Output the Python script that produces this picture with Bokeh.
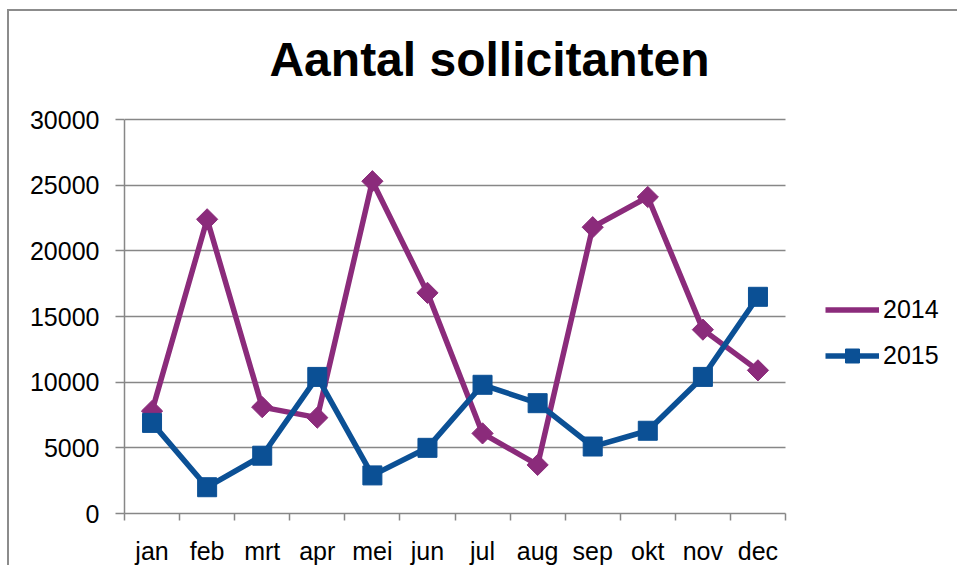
from bokeh.plotting import figure
from bokeh.models import Range1d, FixedTicker, Legend, LegendItem, ColumnDataSource, Label
from bokeh.embed import file_html
from bokeh.resources import INLINE
import math

months = ["jan", "feb", "mrt", "apr", "mei", "jun", "jul", "aug", "sep", "okt", "nov", "dec"]
y2014 = [7800, 22400, 8100, 7300, 25300, 16800, 6100, 3700, 21800, 24100, 14000, 10900]
y2015 = [6900, 2000, 4400, 10400, 2900, 5000, 9800, 8400, 5100, 6300, 10400, 16500]
y_ticks = [0, 5000, 10000, 15000, 20000, 25000, 30000]
title_text = "Aantal sollicitanten"

FONT = "Liberation Sans"
GRAY = "#878787"
PURPLE = "#8B2B7B"
BLUE = "#0B5095"

n = len(months)
y_max = y_ticks[-1]
pos = [i + 0.5 for i in range(n)]  # category centres on a 0..n axis
src = ColumnDataSource(dict(month=months, x=pos, y2014=y2014, y2015=y2015))

# the frame also holds the legend and title areas; the chart itself spans 661x394 px of it
x_end = n * 835 / 661
y_end = y_max * 502 / 394

p = figure(width=950, height=556, x_range=Range1d(0, x_end), y_range=Range1d(0, y_end),
           output_backend="svg", toolbar_location=None, title_location=None,
           min_border_left=115, min_border_bottom=54, min_border_right=0, min_border_top=0)

p.outline_line_color = None
p.background_fill_color = "white"
p.border_fill_color = "white"
p.styles = {"margin-left": "7px", "margin-top": "9px",
            "border-top": "2px solid #8c8c8c", "border-left": "2px solid #8c8c8c"}

# title (centred above the chart area)
p.add_layout(Label(x=n * 365 / 661, y=y_max * 454 / 394, text=title_text,
                   text_font=FONT, text_font_size="48px", text_font_style="bold",
                   text_color="black", text_align="center", text_baseline="alphabetic"))

# y axis
yax = p.yaxis[0]
yax.bounds = (0, y_max)
yax.ticker = FixedTicker(ticks=y_ticks)
yax.axis_line_color = GRAY
yax.axis_line_width = 1.5
yax.major_tick_line_color = GRAY
yax.major_tick_line_width = 1.5
yax.major_tick_out = 9
yax.major_tick_in = 0
yax.minor_tick_line_color = None
yax.major_label_text_font = FONT
yax.major_label_text_font_size = "25px"
yax.major_label_text_color = "black"
yax.major_label_standoff = 16
p.ygrid.ticker = FixedTicker(ticks=y_ticks)
p.ygrid.grid_line_color = GRAY
p.ygrid.grid_line_width = 1.5
try:
    p.ygrid.cross_bounds = (0, n)
except Exception:
    pass
p.xgrid.grid_line_color = None

# x axis: labels at category centres, tick marks at category boundaries
xax = p.xaxis[0]
xax.bounds = (0, n)
xax.ticker = FixedTicker(ticks=pos, minor_ticks=list(range(n + 1)))
xax.major_label_overrides = {c: m for c, m in zip(pos, months)}
xax.axis_line_color = GRAY
xax.axis_line_width = 1.5
xax.major_tick_line_color = None
xax.major_tick_out = 0
xax.major_tick_in = 0
xax.minor_tick_line_color = GRAY
xax.minor_tick_line_width = 1.5
xax.minor_tick_out = 7
xax.minor_tick_in = 0
xax.major_label_text_font = FONT
xax.major_label_text_font_size = "25px"
xax.major_label_text_color = "black"
xax.major_label_standoff = 16

l1 = p.line("x", "y2014", source=src, line_color=PURPLE, line_width=5.5)
s1 = p.scatter("x", "y2014", source=src, marker="square", angle=math.pi / 4, size=15,
               fill_color=PURPLE, line_color=PURPLE)
l2 = p.line("x", "y2015", source=src, line_color=BLUE, line_width=5.5)
s2 = p.scatter("x", "y2015", source=src, marker="square", size=19, fill_color=BLUE, line_color=BLUE)

# legend key for 2014 (legend markers are drawn unrotated, so use a diamond key)
key2014 = p.scatter(x=[], y=[], marker="diamond", fill_color=PURPLE, line_color=PURPLE)

legend = Legend(items=[LegendItem(label="2014", renderers=[l1, key2014]),
                       LegendItem(label="2015", renderers=[l2, s2])],
                location=(701, 140))
legend.border_line_color = None
legend.background_fill_alpha = 0
legend.padding = 0
legend.margin = 0
legend.spacing = 11
legend.glyph_width = 54
legend.glyph_height = 35
legend.label_height = 35
legend.label_standoff = 4
legend.label_text_font = FONT
legend.label_text_font_size = "25px"
legend.label_text_color = "black"
legend.label_text_baseline = "middle"
p.add_layout(legend, "center")

open("out.html", "w").write(file_html(p, INLINE))
